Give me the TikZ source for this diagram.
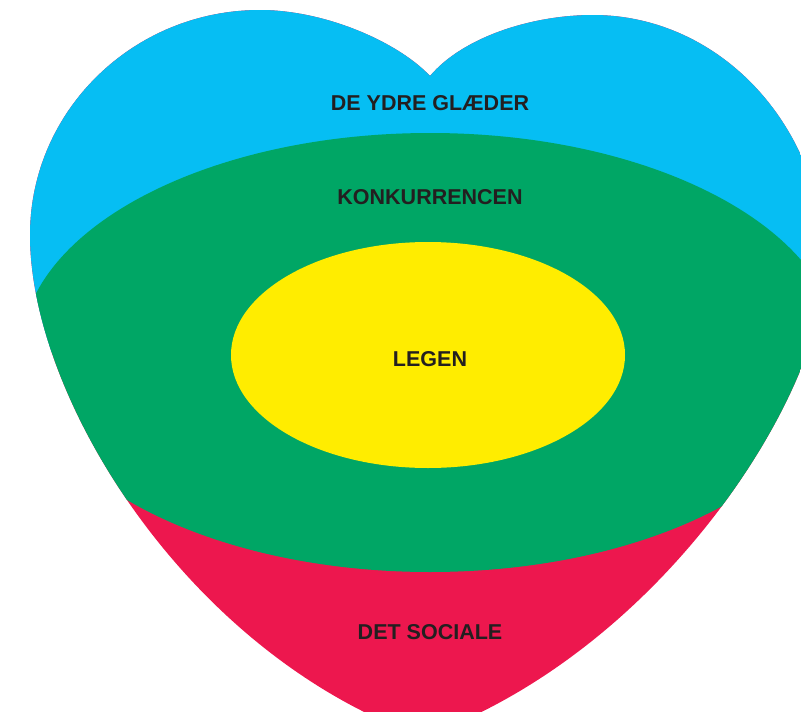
\documentclass[tikz,border=0pt]{standalone}
\usepackage{fontspec}
\setmainfont{Liberation Sans}
\definecolor{hblue}{HTML}{06BEF3}
\definecolor{hgreen}{HTML}{00A665}
\definecolor{hyellow}{HTML}{FFED00}
\definecolor{hred}{HTML}{ED174E}
\definecolor{htext}{HTML}{231F20}
\begin{document}
\begin{tikzpicture}[x=1pt,y=-1pt,
  lbl/.style={font=\fontsize{21.5}{24}\selectfont\bfseries, text=htext, anchor=base, inner sep=0pt}]
\useasboundingbox (0,0) rectangle (801,712);
\clip (0,0) rectangle (801,712);
\begin{scope}
\clip (430,76) .. controls (462,38) and (530,15) .. (593,15)
  .. controls (721,15) and (825,128) .. (825,267)
  .. controls (825,390) and (665,650) .. (423,737)
  .. controls (190,655) and (30,400) .. (30,235)
  .. controls (30,111) and (133,10) .. (260,10)
  .. controls (325,10) and (398,42) .. (430,76) -- cycle;
\fill[hred] (0,0) rectangle (801,800);
\fill[hblue] (0,0) rectangle (801,352);
\fill[hgreen] (430,352.5) ellipse [x radius=409, y radius=219.5];
\end{scope}
\fill[hyellow] (428,355) ellipse [x radius=197, y radius=113];
\node[lbl] (ydre) at (430,110) {DE YDRE GLÆDER};
\node[lbl] (konk) at (430,204) {KONKURRENCEN};
\node[lbl] (legen) at (430,366) {LEGEN};
\node[lbl] (social) at (430,639) {DET SOCIALE};
\end{tikzpicture}
\end{document}
